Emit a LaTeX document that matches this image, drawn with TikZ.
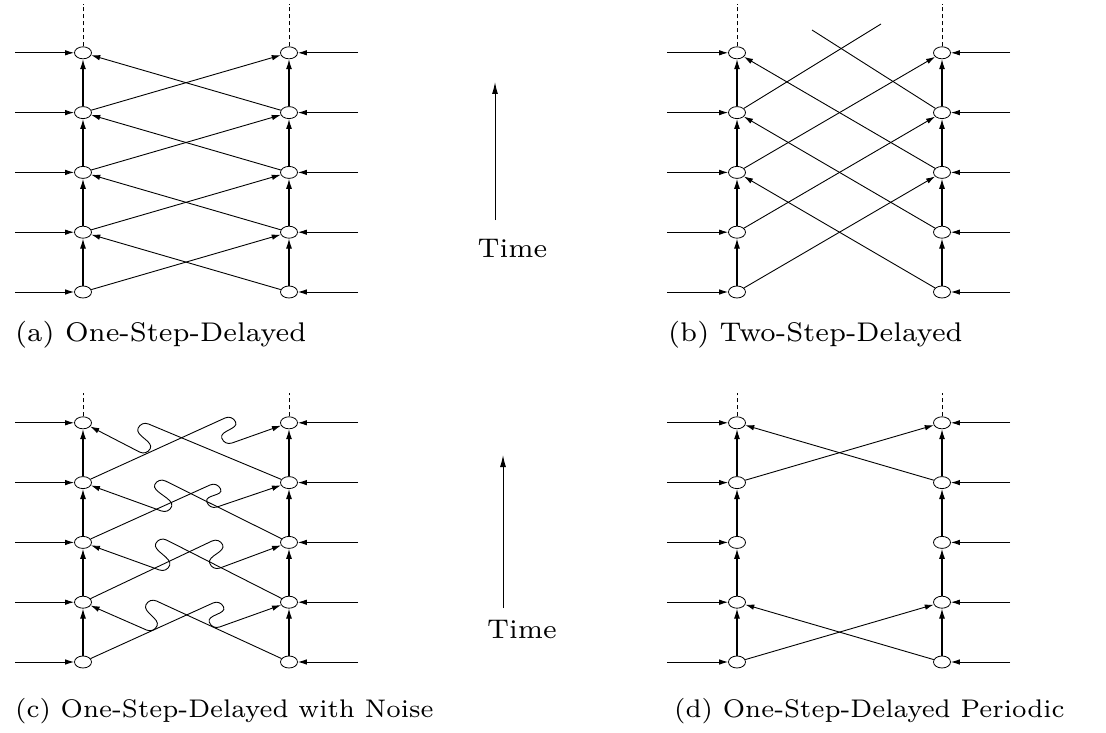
\documentclass[tikz,border=0pt]{standalone}
\usepackage{fontspec}
\newfontfamily\figfont{lmroman7-regular.otf}
\usetikzlibrary{shapes.geometric,arrows.meta,calc}
\tikzset{
  st/.style={ellipse,draw,line width=0.8pt,minimum width=17pt,minimum height=12pt,inner sep=0pt},
  arr/.style={line width=0.9pt,-{Latex[length=9pt,width=5.5pt]}},
  varr/.style={line width=1.1pt,-{Latex[length=10pt,width=6pt]}},
  tarr/.style={line width=1pt,-{Latex[length=12pt,width=6pt]}},
  plain/.style={line width=0.9pt},
  dsh/.style={line width=0.9pt,dash pattern=on 4pt off 3pt},
  lbl/.style={inner sep=0pt,font=\figfont\fontsize{25.5}{30}\selectfont},
  lblb/.style={inner sep=0pt,font=\figfont\fontsize{27}{32}\selectfont}
}
\begin{document}
\begin{tikzpicture}[x=1pt,y=-1pt]
\useasboundingbox (0,0) rectangle (1106,733);
\foreach \p/\xl/\xr/\yb/\xi/\xo/\yt in {a/83/289/292/15/358/4, b/737/942/292/667/1010/4, c/83/289/662/15/358/393, d/737/942/662/667/1010/393}{
  \foreach \i in {0,...,4}{
    \node[st] (\p L\i) at (\xl,\yb-59.8*\i) {};
    \node[st] (\p R\i) at (\xr,\yb-59.8*\i) {};
    \coordinate (\p li\i) at (\xi,\yb-59.8*\i);
    \coordinate (\p ro\i) at (\xo,\yb-59.8*\i);
    \draw[arr] (\p li\i) -- (\p L\i);
    \draw[arr] (\p ro\i) -- (\p R\i);
  }
  \foreach \i/\j in {0/1,1/2,2/3,3/4}{
    \draw[varr] (\p L\i) -- (\p L\j);
    \draw[varr] (\p R\i) -- (\p R\j);
  }
  \coordinate (\p Ltop) at (\xl,\yt);
  \coordinate (\p Rtop) at (\xr,\yt);
  \draw[dsh] (\p L4) -- (\p Ltop);
  \draw[dsh] (\p R4) -- (\p Rtop);
}
% (a)
\foreach \i/\j in {0/1,1/2,2/3,3/4}{
  \draw[arr] (aL\i) -- (aR\j);
  \draw[arr] (aR\i) -- (aL\j);
}
% (b)
\foreach \i/\j in {0/2,1/3,2/4}{
  \draw[arr] (bL\i) -- (bR\j);
  \draw[arr] (bR\i) -- (bL\j);
}
\coordinate (bx1) at (881,24);
\coordinate (bx2) at (812,30);
\draw[plain] (bL3) -- (bx1);
\draw[plain] (bR3) -- (bx2);
% (c) noisy
\foreach \s/\t/\px/\py/\qx/\qy/\r [count=\k] in {
  cL0/cR1/213/603/219.5/627/90, cR0/cL1/156.5/601/146.5/630/-90,
  cL1/cR2/212/541/220/568/90, cR1/cL2/166.5/540/159.5/570/-90,
  cL2/cR3/210/485/217/507/90, cR2/cL3/165.5/481/161.5/511/-90,
  cL3/cR4/225/418/232/443/90, cR3/cL4/148.5/424/139.5/452/-90}{
  \coordinate (np\k) at (\px,\py);
  \coordinate (nq\k) at (\qx,\qy);
  \coordinate (fa\k) at ($(np\k)!-8pt!(\s)$);
  \coordinate (na\k) at ($(fa\k)!8pt!\r:(np\k)$);
  \coordinate (fc\k) at ($(nq\k)!-8pt!(\t)$);
  \coordinate (nc\k) at ($(fc\k)!8pt!\r:(nq\k)$);
  \draw[arr] (\s) -- (np\k)
    .. controls ($(np\k)!-4.6pt!(\s)$) and ($(na\k)!4.6pt!(fa\k)$) .. (na\k)
    .. controls ($(na\k)!-8pt!(fa\k)$) and ($(nc\k)!-8pt!(fc\k)$) .. (nc\k)
    .. controls ($(nc\k)!4.6pt!(fc\k)$) and ($(nq\k)!-4.6pt!(\t)$) .. (nq\k) -- (\t);
}
% (d)
\foreach \i/\j in {0/1,3/4}{
  \draw[arr] (dL\i) -- (dR\j);
  \draw[arr] (dR\i) -- (dL\j);
}
% time arrows
\coordinate (t1a) at (495,220); \coordinate (t1b) at (495,82);
\draw[tarr] (t1a) -- (t1b);
\node[lblb,anchor=base] (time1) at (512.5,257) {Time};
\coordinate (t2a) at (503,608); \coordinate (t2b) at (503,455);
\draw[tarr] (t2a) -- (t2b);
\node[lblb,anchor=base] (time2) at (522,638) {Time};
% captions
\node[lblb,anchor=base west] (capa) at (15,341) {(a) One-Step-Delayed};
\node[lblb,anchor=base west] (capb) at (668,341) {(b) Two-Step-Delayed};
\node[lbl,anchor=base west] (capc) at (15,717) {(c) One-Step-Delayed with Noise};
\node[lbl,anchor=base west] (capd) at (674,717) {(d) One-Step-Delayed Periodic};
\end{tikzpicture}
\end{document}
